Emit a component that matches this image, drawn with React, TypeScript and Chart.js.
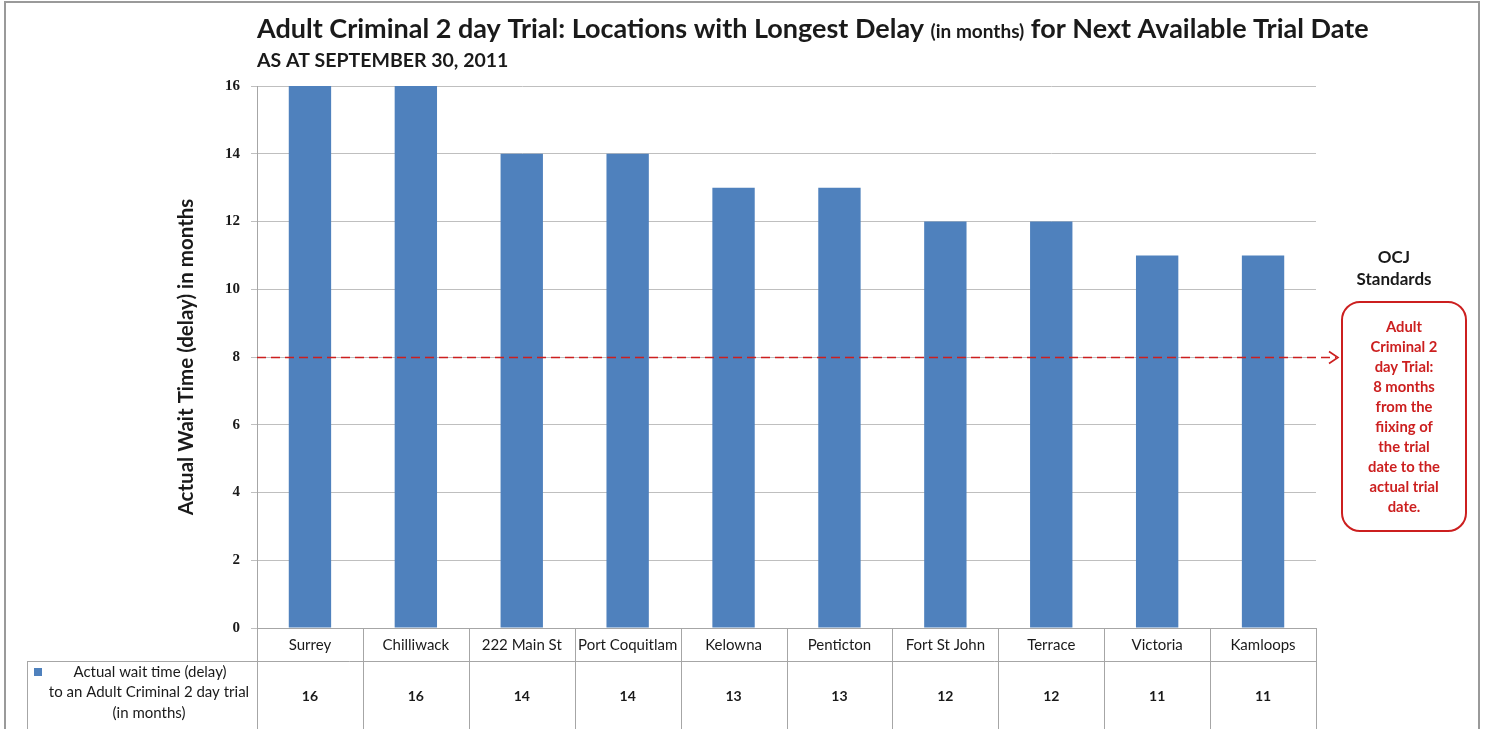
import React, { useEffect, useRef } from "react";
import { Chart, registerables } from "chart.js";

Chart.register(...registerables);

const categories = ["Surrey", "Chilliwack", "222 Main St", "Port Coquitlam", "Kelowna", "Penticton", "Fort St John", "Terrace", "Victoria", "Kamloops"];
const waitMonths = [16, 16, 14, 14, 13, 13, 12, 12, 11, 11];
const standardMonths = 8;
const yMin = 0;
const yMax = 16;
const yStep = 2;

const titleMain = "Adult Criminal 2 day Trial: Locations with Longest Delay ";
const titleSmall = "(in months)";
const titleEnd = " for Next Available Trial Date";
const subtitle = "AS AT SEPTEMBER 30, 2011";
const yTitle = "Actual Wait Time (delay) in months";
const legendLines = ["Actual wait time (delay)", "to an Adult Criminal 2 day trial", "(in months)"];
const ocjLines = ["OCJ", "Standards"];
const boxLines = ["Adult", "Criminal 2", "day Trial:", "8 months", "from the", "fiixing of", "the trial", "date to the", "actual trial", "date."];

const SANS = "Lato, 'Open Sans', sans-serif";
const BLUE = "#4f81bd";
const RED = "#cc1f1f";
const LINE = "#a6a6a6";

const overlay = {
  id: "overlay",
  afterDraw(chart: any) {
    const ctx = chart.ctx as CanvasRenderingContext2D;
    const x = chart.scales.x;
    const y = chart.scales.y;
    const area = chart.chartArea;
    ctx.save();

    // outer frame
    ctx.strokeStyle = "#9a9a9a";
    ctx.lineWidth = 2;
    ctx.beginPath();
    ctx.moveTo(5, 740);
    ctx.lineTo(5, 2);
    ctx.lineTo(1479, 2);
    ctx.lineTo(1479, 740);
    ctx.stroke();

    // title
    ctx.fillStyle = "#1a1a1a";
    ctx.textBaseline = "alphabetic";
    ctx.textAlign = "left";
    let tx = area.left;
    ctx.font = `bold 27px ${SANS}`;
    ctx.fillText(titleMain, tx, 38);
    tx += ctx.measureText(titleMain).width;
    ctx.font = `bold 19px ${SANS}`;
    ctx.fillText(titleSmall, tx, 38);
    tx += ctx.measureText(titleSmall).width;
    ctx.font = `bold 27px ${SANS}`;
    ctx.fillText(titleEnd, tx, 38);
    ctx.font = `bold 19.5px ${SANS}`;
    ctx.fillText(subtitle, area.left, 67);

    // y title
    ctx.save();
    ctx.translate(186, (area.top + area.bottom) / 2);
    ctx.rotate(-Math.PI / 2);
    ctx.textAlign = "center";
    ctx.textBaseline = "middle";
    ctx.font = `bold 20.5px ${SANS}`;
    ctx.fillText(yTitle, 0, 0);
    ctx.restore();

    // standard dashed line
    const sy = Math.round(y.getPixelForValue(standardMonths)) + 0.5;
    ctx.strokeStyle = RED;
    ctx.lineWidth = 1.6;
    ctx.setLineDash([9, 5]);
    ctx.beginPath();
    ctx.moveTo(area.left, sy);
    ctx.lineTo(1336, sy);
    ctx.stroke();
    ctx.setLineDash([]);
    ctx.beginPath();
    ctx.moveTo(1329, sy - 6);
    ctx.lineTo(1338, sy);
    ctx.lineTo(1329, sy + 6);
    ctx.stroke();

    // OCJ Standards
    ctx.fillStyle = "#1a1a1a";
    ctx.textAlign = "center";
    ctx.textBaseline = "middle";
    ctx.font = `bold 17px ${SANS}`;
    ctx.fillText(ocjLines[0], 1394, 258);
    ctx.fillText(ocjLines[1], 1394, 280);

    // rounded box
    const bx = 1342, by = 302, bw = 124, bh = 229, r = 18;
    ctx.strokeStyle = RED;
    ctx.lineWidth = 2;
    ctx.beginPath();
    ctx.roundRect(bx, by, bw, bh, r);
    ctx.stroke();
    ctx.fillStyle = RED;
    ctx.font = `bold 14.8px ${SANS}`;
    boxLines.forEach((t, i) => {
      ctx.fillText(t, 1404, 327 + i * 20);
    });

    // data table
    const bottom = chart.height + 5;
    const rowY = 661;
    ctx.strokeStyle = LINE;
    ctx.lineWidth = 1;
    const half = (x.getPixelForValue(1) - x.getPixelForValue(0)) / 2;
    const bounds: number[] = [];
    categories.forEach((_, i) => bounds.push(x.getPixelForValue(i) - half));
    bounds.push(x.getPixelForValue(categories.length - 1) + half);
    ctx.beginPath();
    bounds.forEach((b) => {
      const bxp = Math.round(b) + 0.5;
      ctx.moveTo(bxp, area.bottom);
      ctx.lineTo(bxp, bottom);
    });
    ctx.moveTo(27.5, rowY + 0.5);
    ctx.lineTo(Math.round(bounds[bounds.length - 1]) + 0.5, rowY + 0.5);
    ctx.moveTo(27.5, rowY);
    ctx.lineTo(27.5, bottom);
    ctx.stroke();

    // legend cell
    ctx.fillStyle = BLUE;
    ctx.fillRect(34, 668, 8, 8);
    ctx.fillStyle = "#1a1a1a";
    ctx.font = `15px ${SANS}`;
    ctx.fillText(legendLines[0], 150, 672);
    ctx.fillText(legendLines[1], 149, 692);
    ctx.fillText(legendLines[2], 149, 713);

    // values
    ctx.font = `bold 14px ${SANS}`;
    waitMonths.forEach((v, i) => {
      ctx.fillText(String(v), x.getPixelForValue(i), 696);
    });

    ctx.restore();
  },
};

export default function App() {
  const ref = useRef<HTMLCanvasElement>(null);
  useEffect(() => {
    document.body.style.margin = "0";
    const chart = new Chart(ref.current!, {
      type: "bar",
      data: {
        labels: categories,
        datasets: [
          {
            label: legendLines.join(" "),
            data: waitMonths,
            backgroundColor: BLUE,
            barPercentage: 0.4,
            categoryPercentage: 1,
          },
        ],
      },
      options: {
        responsive: false,
        animation: false,
        layout: { padding: { top: 86, right: 170, left: 0, bottom: 0 } },
        plugins: { legend: { display: false }, tooltip: { enabled: false }, title: { display: false } },
        scales: {
          x: {
            grid: { display: false, drawTicks: false },
            border: { display: true, color: LINE, width: 1 },
            ticks: { color: "#1a1a1a", font: { family: SANS, size: 15 }, padding: 8, maxRotation: 0, autoSkip: false },
            afterFit: (s: any) => {
              s.height = 101;
            },
          },
          y: {
            min: yMin,
            max: yMax,
            ticks: { stepSize: yStep, color: "#1a1a1a", font: { family: "'Liberation Serif', serif", size: 15, weight: "bold" }, padding: 11 },
            grid: { color: "#bfbfbf", tickLength: 6, drawTicks: true },
            border: { display: true, color: LINE },
            afterFit: (s: any) => {
              s.width = 257;
            },
          },
        },
      },
      plugins: [overlay],
    });
    return () => chart.destroy();
  }, []);
  return (
    <div style={{ position: "absolute", left: 0, top: 0, width: 1486, height: 729, background: "#fff" }}>
      <canvas ref={ref} width={1486} height={729} style={{ width: 1486, height: 729, display: "block" }} />
    </div>
  );
}
